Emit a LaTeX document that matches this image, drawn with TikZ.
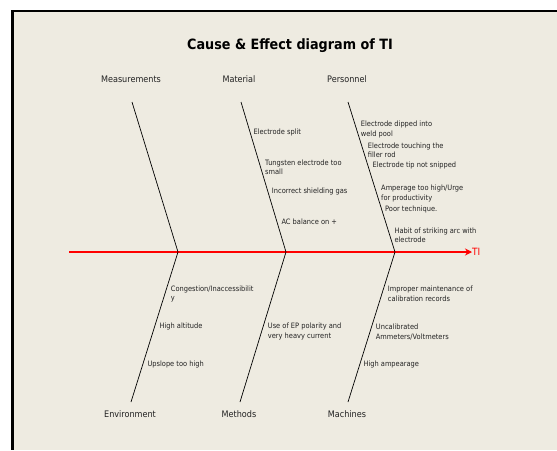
\documentclass[tikz,border=0pt]{standalone}
\usepackage{fontspec}
\setmainfont{DejaVu Sans}[FakeStretch=0.9]
\usetikzlibrary{arrows.meta}
\definecolor{bg}{HTML}{EEEBE1}
\definecolor{txt}{HTML}{222222}
\begin{document}
\begin{tikzpicture}[x=1pt,y=-1pt,
  cause/.style={font=\fontsize{7.4}{9.7}\selectfont, text=txt, anchor=west, align=left, inner sep=0pt},
  cat/.style={font=\fontsize{9}{11}\selectfont, text=txt, inner sep=0pt},
  bone/.style={draw=black, line width=0.7pt},
  spine/.style={draw=red, line width=1.3pt, -{Stealth[length=7pt,width=7pt]}}]
\useasboundingbox (0,0) rectangle (557,450);
\fill[white] (0,0) rectangle (557,450);
\fill[bg] (13,12) rectangle (557,450);
\draw[black, line width=2pt] (11,11) -- (557,11);
\draw[black, line width=2.7pt] (12.3,10) -- (12.3,450);
% title
\node[font=\bfseries\fontsize{14.2}{16}\selectfont, text=black, inner sep=0pt] (title) at (290,46) {Cause \& Effect diagram of TI};
% categories
\node[cat] (meas) at (131,79) {Measurements};
\node[cat] (mat) at (239,79) {Material};
\node[cat] (pers) at (347,79) {Personnel};
\node[cat] (env) at (130,414) {Environment};
\node[cat] (meth) at (239,414) {Methods};
\node[cat] (mach) at (347,414) {Machines};
% bone coordinates
\coordinate (m1) at (132,102); \coordinate (v1) at (178,252); \coordinate (b1) at (131,402);
\coordinate (m2) at (241,102); \coordinate (v2) at (286,252); \coordinate (b2) at (240,402);
\coordinate (m3) at (348,102); \coordinate (v3) at (395,252); \coordinate (b3) at (348,402);
\coordinate (tail) at (69,252);
% effect
\node[font=\fontsize{10}{12}\selectfont, text=red, anchor=west, inner sep=0pt] (ti) at (472,252) {TI};
\draw[spine] (tail) -- (ti.west);
\draw[bone] (m1) -- (v1) -- (b1);
\draw[bone] (m2) -- (v2) -- (b2);
\draw[bone] (m3) -- (v3) -- (b3);
% material causes
\node[cause] (c1) at (253.3,132) {Electrode split};
\node[cause] (c2) at (265,167.2) {Tungsten electrode too\\small};
\node[cause] (c3) at (271.7,191.7) {Incorrect shielding gas};
\node[cause] (c4) at (281.3,221.7) {AC balance on +};
% personnel causes
\node[cause] (p1) at (360.7,129.2) {Electrode dipped into\\weld pool};
\node[cause] (p2) at (367.7,150.3) {Electrode touching the\\filler rod};
\node[cause] (p3) at (372.3,165.7) {Electrode tip not snipped};
\node[cause] (p4) at (381,193.2) {Amperage too high/Urge\\for productivity};
\node[cause] (p5) at (385,209) {Poor technique.};
\node[cause] (p6) at (394.3,235.3) {Habit of striking arc with\\electrode};
% environment causes
\node[cause] (en1) at (170.7,294) {Congestion/Inaccessibilit\\y};
\node[cause] (en2) at (159.3,326.7) {High altitude};
\node[cause] (en3) at (147.3,364) {Upslope too high};
% methods
\node[cause] (me1) at (267.7,331.7) {Use of EP polarity and\\very heavy current};
% machines
\node[cause] (ma1) at (387.7,293.5) {Improper maintenance of\\calibration records};
\node[cause] (ma2) at (375.7,331.7) {Uncalibrated\\Ammeters/Voltmeters};
\node[cause] (ma3) at (363.3,364) {High ampearage};
\end{tikzpicture}
\end{document}
